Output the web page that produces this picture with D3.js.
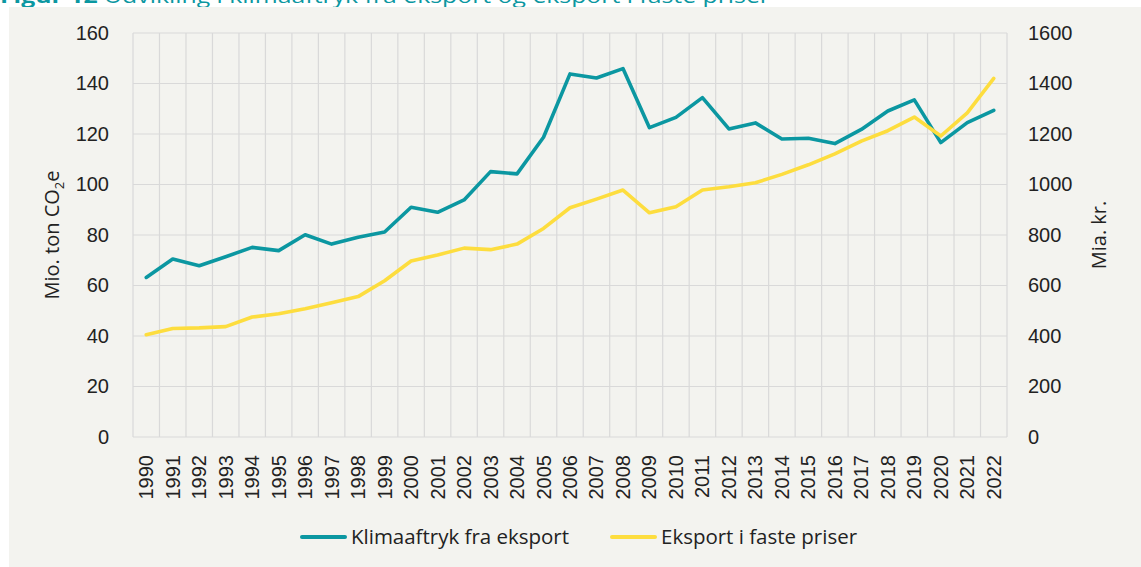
<!DOCTYPE html>
<html>
<head>
<meta charset="utf-8">
<script src="https://cdn.jsdelivr.net/npm/d3@7"></script>
<style>
  body { margin: 0; background: #fff; }
  svg { display: block; font-family: 'Open Sans', sans-serif; }
  .tick text { fill: #222; }
</style>
</head>
<body>
<svg width="1141" height="567"></svg>
<script>
// data
const years = d3.range(1990, 2023).map(String);
const klimaaftryk = [63.2, 70.5, 67.8, 71.4, 75.1, 73.8, 80.1, 76.4, 79.1, 81.2,
  91.0, 89.0, 93.9, 105.1, 104.2, 118.7, 143.8, 142.2, 145.9, 122.5,
  126.6, 134.4, 122.0, 124.4, 118.0, 118.3, 116.2, 121.8, 129.1, 133.5,
  116.6, 124.5, 129.4];
const eksport = [405, 430, 432, 437, 475, 488, 508, 532, 556, 619,
  697, 721, 748, 742, 764, 826, 908, 942, 978, 888,
  912, 978, 991, 1007, 1040, 1078, 1121, 1172, 1213, 1267,
  1192, 1284, 1420];
const leftTicks = [0, 20, 40, 60, 80, 100, 120, 140, 160];
const rightTicks = [0, 200, 400, 600, 800, 1000, 1200, 1400, 1600];
const seriesNames = ['Klimaaftryk fra eksport', 'Eksport i faste priser'];
const colors = ['#0b97a1', '#fddd3e'];

const svg = d3.select('svg');
const margin = { top: 33, left: 133, right: 134, bottom: 130 };
const width = 1141, height = 567;
const innerWidth = width - margin.left - margin.right;
const innerHeight = height - margin.top - margin.bottom;

// background panel + caption that sits mostly above the page edge
svg.append('text')
  .attr('x', 0).attr('y', 3)
  .attr('fill', '#0b97a1')
  .style('font-size', '20px')
  .attr('textLength', 770)
  .attr('lengthAdjust', 'spacingAndGlyphs')
  .html('<tspan font-weight="bold">Figur 12</tspan>  Udvikling i klimaaftryk fra eksport og eksport i faste priser');
svg.append('rect')
  .attr('x', 9).attr('y', 7)
  .attr('width', width - 9).attr('height', height - 7)
  .attr('fill', '#f3f3ef');

const g = svg.append('g')
  .attr('transform', `translate(${margin.left},${margin.top})`);

const xScale = d3.scaleBand().domain(years).range([0, innerWidth]);
const yLeft = d3.scaleLinear().domain([0, 160]).range([innerHeight, 0]);
const yRight = d3.scaleLinear().domain([0, 1600]).range([innerHeight, 0]);

// grid
g.append('g').selectAll('line.h').data(leftTicks)
  .enter().append('line')
  .attr('x1', 0).attr('x2', innerWidth)
  .attr('y1', d => yLeft(d)).attr('y2', d => yLeft(d))
  .attr('stroke', '#d9d9d9').attr('stroke-width', 1.2);

const bounds = years.map(d => xScale(d)).concat([innerWidth]);
g.append('g').selectAll('line.v').data(bounds)
  .enter().append('line')
  .attr('x1', d => d).attr('x2', d => d)
  .attr('y1', 0).attr('y2', innerHeight)
  .attr('stroke', '#d9d9d9').attr('stroke-width', 1.2);

// axes
const leftAxis = g.append('g')
  .call(d3.axisLeft(yLeft).tickValues(leftTicks).tickSize(0).tickPadding(24));
leftAxis.select('.domain').remove();
leftAxis.selectAll('text').style('font-size', '20px');

const rightAxis = g.append('g')
  .attr('transform', `translate(${innerWidth},0)`)
  .call(d3.axisRight(yRight).tickValues(rightTicks).tickFormat(d3.format('d'))
    .tickSize(0).tickPadding(21));
rightAxis.select('.domain').remove();
rightAxis.selectAll('text').style('font-size', '20px');

const xAxis = g.append('g')
  .attr('transform', `translate(0,${innerHeight})`)
  .call(d3.axisBottom(xScale).tickSize(0));
xAxis.select('.domain').remove();
xAxis.selectAll('text')
  .style('font-size', '20px')
  .attr('text-anchor', 'end')
  .attr('dy', '0.35em')
  .attr('transform', 'translate(0,18) rotate(-90)')
  .attr('x', 0).attr('y', 0);

// axis titles
const leftTitle = svg.append('text')
  .attr('transform', `translate(59,${margin.top + innerHeight / 2}) rotate(-90)`)
  .attr('text-anchor', 'middle')
  .attr('fill', '#222')
  .style('font-size', '20px');
leftTitle.append('tspan').text('Mio. ton CO');
leftTitle.append('tspan').attr('dy', 5).style('font-size', '13px').text('2');
leftTitle.append('tspan').attr('dy', -5).text('e');

svg.append('text')
  .attr('transform', `translate(1106,${margin.top + innerHeight / 2}) rotate(-90)`)
  .attr('text-anchor', 'middle')
  .attr('fill', '#222')
  .style('font-size', '20px')
  .text('Mia. kr.');

// lines
const cx = d => xScale(d) + xScale.bandwidth() / 2;
const lineLeft = d3.line().x((d, i) => cx(years[i])).y(d => yLeft(d));
const lineRight = d3.line().x((d, i) => cx(years[i])).y(d => yRight(d));

g.append('path').datum(klimaaftryk)
  .attr('d', lineLeft)
  .attr('fill', 'none').attr('stroke', colors[0])
  .attr('stroke-width', 3.6).attr('stroke-linejoin', 'round').attr('stroke-linecap', 'round');

g.append('path').datum(eksport)
  .attr('d', lineRight)
  .attr('fill', 'none').attr('stroke', colors[1])
  .attr('stroke-width', 3.6).attr('stroke-linejoin', 'round').attr('stroke-linecap', 'round');

// legend
const legendX = [302, 612];
const legendW = [218, 196];
const legend = svg.append('g').selectAll('g').data(seriesNames)
  .enter().append('g')
  .attr('transform', (d, i) => `translate(${legendX[i]},537)`);
legend.append('line')
  .attr('x1', 0).attr('x2', 43)
  .attr('stroke', (d, i) => colors[i])
  .attr('stroke-width', 4).attr('stroke-linecap', 'round');
legend.append('text')
  .attr('x', 49).attr('dy', '0.35em')
  .attr('fill', '#222')
  .style('font-size', '20px')
  .attr('textLength', (d, i) => legendW[i])
  .attr('lengthAdjust', 'spacingAndGlyphs')
  .text(d => d);
</script>
</body>
</html>
